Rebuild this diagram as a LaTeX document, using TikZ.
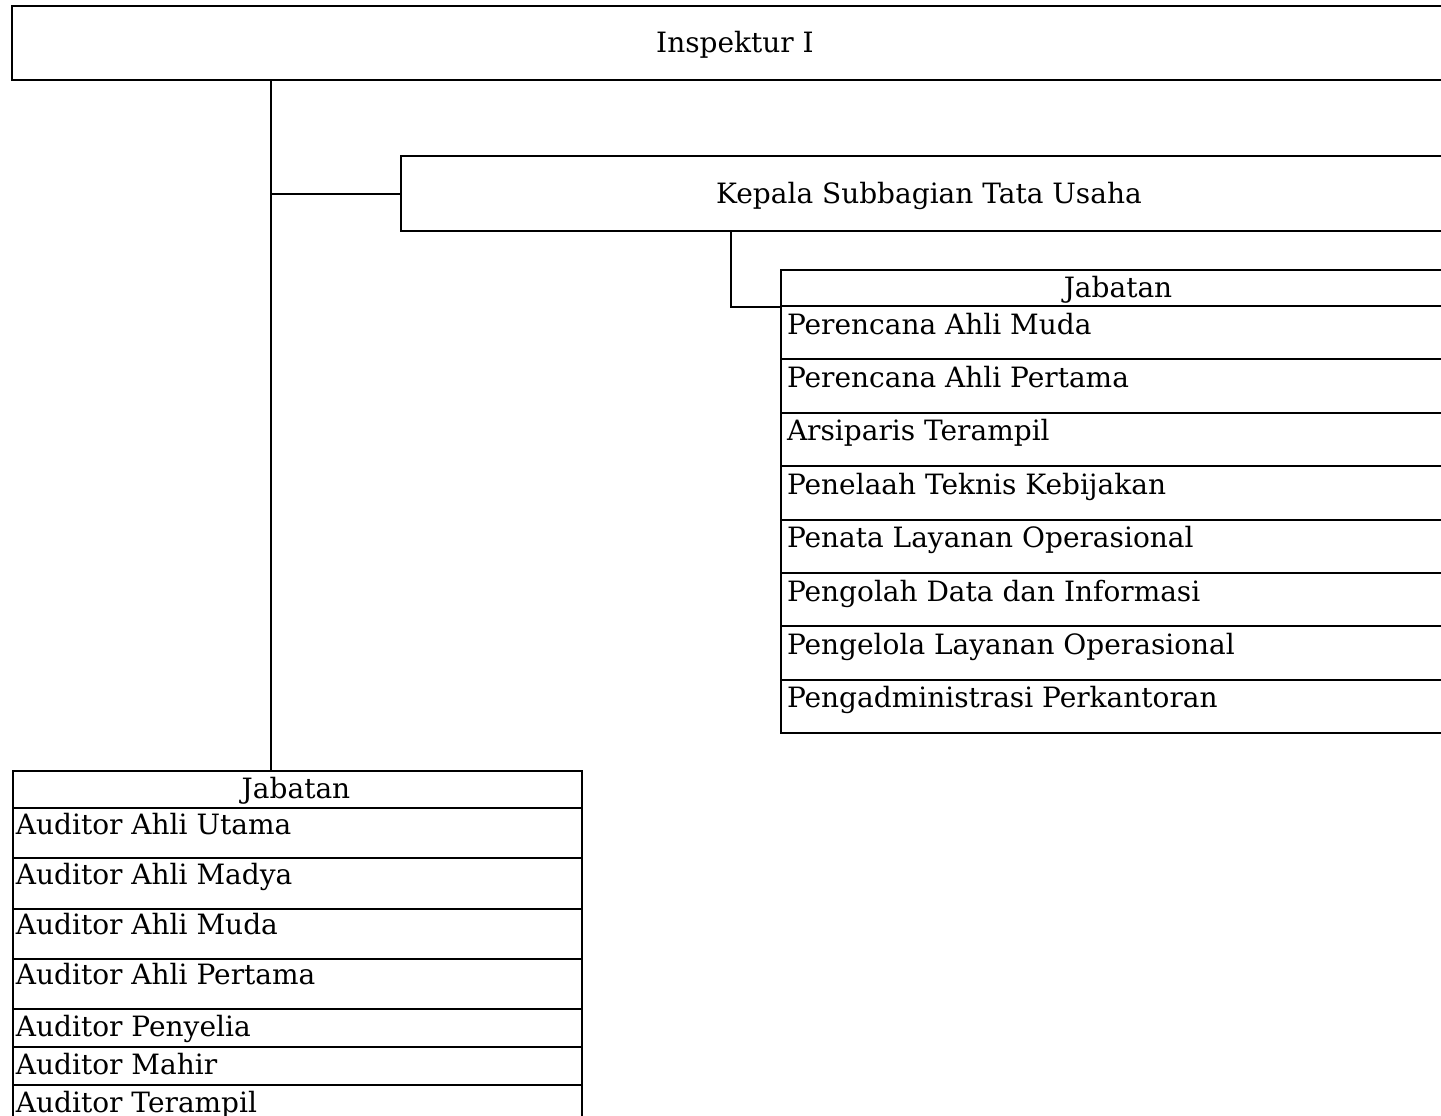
\documentclass[tikz,border=0pt]{standalone}
\usepackage{fontspec}
\setmainfont{DejaVu Serif}
\begin{document}
\begin{tikzpicture}[x=1pt,y=-1pt,
  line width=2pt,
  txt/.style={font=\fontsize{28}{32}\selectfont},
  box/.style={draw, line width=2pt, inner sep=0pt},
  cell/.style={draw, line width=2pt, inner sep=0pt, anchor=north west},
  lbl/.style={txt, inner sep=0pt, anchor=base west},
  hdr/.style={txt, inner sep=0pt, anchor=base}]
\useasboundingbox (0,0) rectangle (1441,1116);
\clip (0,0) rectangle (1441,1116);

% top box
\node[box, minimum width=1445pt, minimum height=74pt] (insp) at (734.5,43) {};
\node[hdr] (inspT) at (735,53) {Inspektur I};

% kepala box
\node[box, minimum width=1056pt, minimum height=75pt] (kep) at (929,193.5) {};
\node[hdr] (kepT) at (929,203) {Kepala Subbagian Tata Usaha};

% right table
\node[cell, minimum width=677pt, minimum height=36pt] (rH) at (780,269) {};
\node[hdr] (rHT) at (1118,297) {Jabatan};
\foreach \t [count=\i from 0] in {Perencana Ahli Muda, Perencana Ahli Pertama, Arsiparis Terampil, Penelaah Teknis Kebijakan, Penata Layanan Operasional, Pengolah Data dan Informasi, Pengelola Layanan Operasional, Pengadministrasi Perkantoran}{
  \node[cell, minimum width=677pt, minimum height=53.4pt] (r\i) at (780,{305+53.4*\i}) {};
  \node[lbl] (rt\i) at ([xshift=6pt,yshift=-29pt]r\i.north west) {\t};
}

% left table
\node[cell, minimum width=569pt, minimum height=37pt] (lH) at (12,770) {};
\node[hdr] (lHT) at (296,798) {Jabatan};
\foreach \top/\h/\d/\t [count=\i] in {807/50.3/27/Auditor Ahli Utama, 857.3/50.3/27/Auditor Ahli Madya, 907.6/50.3/27/Auditor Ahli Muda, 957.9/50.3/27/Auditor Ahli Pertama, 1008.2/38/28/Auditor Penyelia, 1046.2/38/28/Auditor Mahir, 1084.2/40/28/Auditor Terampil}{
  \node[cell, minimum width=569pt, minimum height=\h pt] (l\i) at (12,\top) {};
  \node[lbl] (lt\i) at ([xshift=3pt,yshift=-\d pt]l\i.north west) {\t};
}

% connectors
\coordinate (trunk) at (271,193.5);
\coordinate (drop) at (731,231);
\draw (insp.south -| trunk) -- (lH.north -| trunk);
\draw (trunk) -- (kep.west);
\draw (kep.south -| drop) |- (rH.south west);
\end{tikzpicture}
\end{document}
